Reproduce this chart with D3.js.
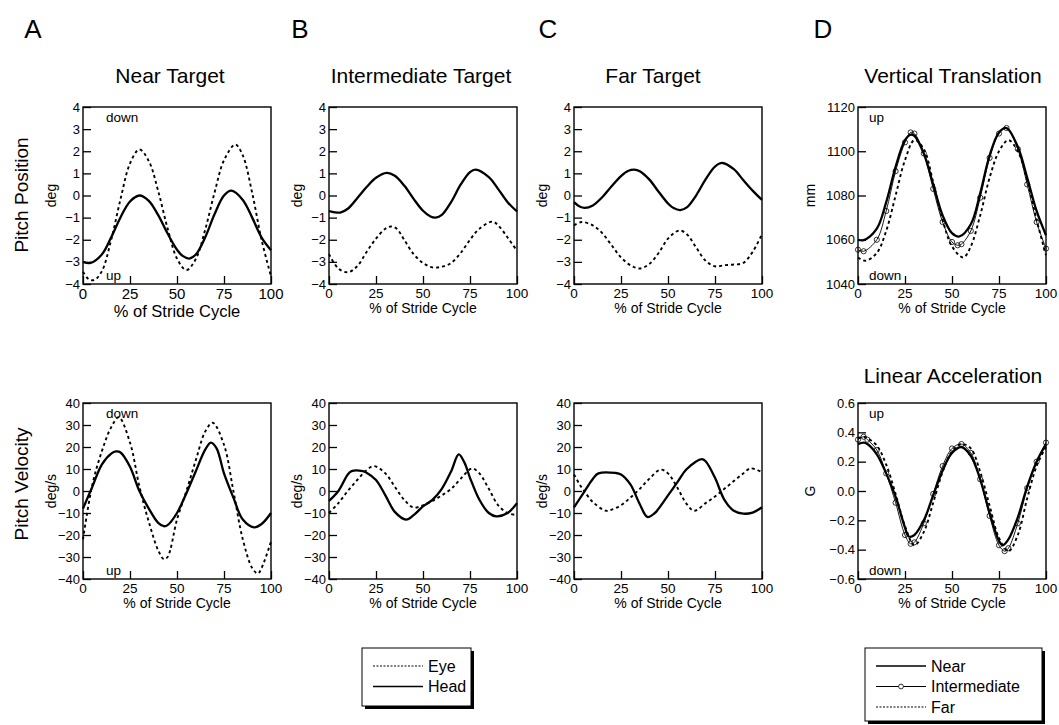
<!DOCTYPE html>
<html>
<head>
<meta charset="utf-8">
<script src="https://cdn.jsdelivr.net/npm/d3@7"></script>
<style>
  body { margin: 0; background: #fff; }
  svg { font-family: "Liberation Sans", Arial, Helvetica, sans-serif; }
</style>
</head>
<body>
<div id="chart"></div>
<script>
const width = 1059;
const height = 725;

// ---- data ----
const strideTicks = [0, 25, 50, 75, 100];
const positionTicks = [-4, -3, -2, -1, 0, 1, 2, 3, 4];
const velocityTicks = [-40, -30, -20, -10, 0, 10, 20, 30, 40];
const translationTicks = [1040, 1060, 1080, 1100, 1120];
const accelerationTicks = [-0.6, -0.4, -0.2, 0.0, 0.2, 0.4, 0.6];

// pitch position (deg) vs % of stride cycle
const nearEyePos = [[0,-3.45],[3,-3.78],[6,-3.82],[10,-3.43],[15,-2.0],[20,-0.15],[25,1.45],[30,2.08],[35,1.56],[40,0.2],[45,-1.49],[50,-2.85],[55,-3.37],[60,-2.87],[65,-1.54],[70,0.14],[75,1.59],[81,2.3],[85,1.81],[90,0.11],[95,-2.01],[100,-3.65]];
const nearHeadPos = [[0,-3.0],[4,-3.05],[10,-2.67],[15,-1.89],[20,-0.98],[25,-0.27],[30,0.0],[35,-0.24],[40,-0.89],[45,-1.72],[50,-2.45],[53,-2.73],[56.5,-2.85],[60,-2.67],[65,-1.89],[70,-0.84],[75,0.0],[79,0.22],[85,-0.2],[90,-1.0],[95,-1.9],[100,-2.47]];
const interEyePos = [[0,-2.65],[5,-3.3],[10,-3.47],[15,-3.2],[20,-2.55],[25,-1.95],[30,-1.5],[33,-1.4],[36,-1.5],[40,-2.0],[45,-2.65],[50,-3.05],[55,-3.25],[60,-3.22],[65,-3.05],[70,-2.6],[75,-2.0],[80,-1.5],[87,-1.18],[90,-1.35],[95,-1.9],[100,-2.5]];
const interHeadPos = [[0,-0.7],[3,-0.76],[6,-0.77],[10,-0.6],[15,-0.12],[20,0.38],[25,0.8],[30.7,1.02],[35,0.89],[40,0.45],[45,-0.15],[50,-0.69],[54,-0.95],[56.8,-1.0],[60,-0.88],[65,-0.29],[70,0.49],[75,1.06],[78,1.17],[85,0.83],[90,0.29],[95,-0.3],[100,-0.72]];
const farEyePos = [[0,-1.35],[4,-1.2],[10,-1.35],[15,-1.7],[20,-2.25],[25,-2.8],[30,-3.15],[35,-3.3],[40,-3.1],[45,-2.6],[50,-1.95],[56,-1.58],[60,-1.75],[65,-2.35],[70,-2.95],[75,-3.2],[80,-3.15],[85,-3.12],[90,-3.05],[95,-2.55],[100,-1.75]];
const farHeadPos = [[0,-0.3],[3,-0.5],[5.7,-0.56],[10,-0.45],[15,-0.08],[20,0.42],[25,0.88],[29,1.12],[32,1.17],[35,1.1],[40,0.73],[45,0.17],[50,-0.36],[53,-0.57],[56.5,-0.66],[60,-0.54],[65,0.01],[70,0.73],[75,1.31],[79,1.47],[85,1.19],[90,0.7],[95,0.22],[100,-0.2]];

// pitch velocity (deg/s)
const nearEyeVel = [[0,-22],[5,3],[10,18],[15,29],[19,33.5],[25,22],[30,2],[35,-14],[40,-27],[43,-31],[45,-30],[50,-13],[55,0],[60,14],[65,27],[69,31],[75,21],[80,0],[85,-22],[90,-35],[93,-37.5],[95,-35],[100,-23]];
const nearHeadVel = [[0,-8],[5,2],[10,12],[15,17],[17.5,18],[20,17.5],[25,11],[30,0],[35,-8],[40,-14.5],[43,-16],[45,-15.5],[50,-10],[55,-1],[60,9],[65,18.8],[68,22],[71,19.5],[75,8],[80,-3],[85,-13],[91,-16.5],[95,-15],[100,-10]];
const interEyeVel = [[0,-10],[5,-5.5],[10,0],[15,5],[20,9.5],[24,11.3],[30,8],[35,2],[40,-4],[45,-7.5],[50,-6.5],[55,-4.5],[60,-2],[65,1],[70,5.5],[76,10.2],[80,8],[85,1],[90,-6.5],[95,-10],[100,-11]];
const interHeadVel = [[0,-4.5],[5,0],[10,7.5],[12,9],[18,9],[20,8.3],[25,5],[30,-2],[35,-9.5],[41,-13],[45,-11],[50,-7],[55,-4],[60,1],[65,9],[69,16.6],[72,13],[75,6],[80,-4],[85,-10],[89,-11.5],[95,-10],[100,-5.5]];
const farEyeVel = [[0,7.5],[3,3],[5,0.5],[10,-5],[17,-9],[20,-8.5],[25,-6.5],[30,-3],[35,1],[40,5.5],[46,9.7],[50,8],[55,1.5],[60,-6],[64,-9],[70,-5.5],[75,-2.5],[80,1],[85,4.5],[90,8],[94,10.3],[100,8.5]];
const farHeadVel = [[0,-7.4],[5,-1],[10,5.5],[13,8],[22,8.2],[25,7.5],[30,3],[35,-6],[39,-11.8],[43,-10],[45,-8],[50,-2],[55,4],[60,10],[68,14.5],[70,13.5],[75,6],[80,-4],[85,-9],[90,-10.3],[95,-9.8],[100,-7.4]];

// vertical translation (mm)
const nearTrans = [[0,1060],[3,1059.8],[10,1065],[15,1077],[20,1093],[25,1105],[28,1107.5],[30,1107],[35,1099],[40,1085],[45,1071],[50,1063],[54,1061.5],[60,1067],[65,1081],[70,1098],[75,1108.5],[79,1110.5],[85,1102],[90,1088],[95,1073],[100,1062]];
const interTrans = [[0,1055.5],[3,1054.8],[10,1060],[15,1073],[20,1091],[25,1104],[28,1108.5],[30,1108],[35,1099],[40,1083],[45,1068],[50,1059],[53,1057.5],[55,1058],[60,1064],[65,1079],[70,1097],[75,1108],[79,1110.5],[85,1101],[90,1085],[95,1068],[100,1056]];
const farTrans = [[0,1052],[4,1050.5],[10,1054],[15,1064],[20,1080],[25,1096],[30,1105],[35,1101],[40,1086],[45,1069],[50,1057],[56,1052],[60,1057],[65,1071],[70,1088],[75,1100],[80,1105],[85,1100],[90,1087],[95,1069],[100,1053]];

// linear acceleration (G)
const nearAccel = [[0,0.32],[3,0.33],[5,0.32],[10,0.25],[15,0.12],[20,-0.04],[25,-0.25],[27,-0.31],[30,-0.3],[35,-0.2],[40,-0.03],[45,0.14],[50,0.26],[55,0.30],[60,0.24],[65,0.08],[70,-0.15],[75,-0.34],[77,-0.37],[80,-0.33],[85,-0.18],[90,0.03],[95,0.2],[100,0.32]];
const interAccel = [[0,0.35],[3,0.37],[5,0.35],[10,0.28],[15,0.12],[20,-0.08],[25,-0.3],[28,-0.36],[30,-0.35],[35,-0.22],[40,-0.02],[45,0.17],[50,0.29],[55,0.32],[60,0.26],[65,0.08],[70,-0.17],[75,-0.37],[78,-0.41],[80,-0.39],[85,-0.22],[90,0.02],[95,0.2],[100,0.33]];
const farAccel = [[0,0.36],[3,0.37],[5,0.36],[10,0.31],[15,0.18],[20,-0.02],[25,-0.24],[30,-0.37],[35,-0.28],[40,-0.08],[45,0.13],[50,0.27],[55,0.32],[60,0.29],[65,0.13],[70,-0.1],[75,-0.32],[80,-0.41],[85,-0.3],[90,-0.05],[95,0.17],[100,0.3]];

// ---- layout ----
const cols = [[83, 271], [329, 517], [574, 762], [858, 1046]];
const rows = [[107, 284], [403, 579]];

const svg = d3.select("#chart")
  .append("svg")
  .attr("width", width)
  .attr("height", height);

const styles = {
  solid: { width: 2.3, dash: null },
  dash: { width: 1.9, dash: "3,3" },
  thin: { width: 0.9, dash: null }
};

const panels = [
  { col: 0, row: 0, domain: [-4, 4], ticks: positionTicks, fmt: d3.format("d"), unit: "deg",
    series: [{ data: nearEyePos, style: "dash" }, { data: nearHeadPos, style: "solid" }],
    notes: [["down", "top"], ["up", "bottom"]], noteX: 23, bigX: true },
  { col: 1, row: 0, domain: [-4, 4], ticks: positionTicks, fmt: d3.format("d"), unit: "deg",
    series: [{ data: interEyePos, style: "dash" }, { data: interHeadPos, style: "solid" }] },
  { col: 2, row: 0, domain: [-4, 4], ticks: positionTicks, fmt: d3.format("d"), unit: "deg",
    series: [{ data: farEyePos, style: "dash" }, { data: farHeadPos, style: "solid" }] },
  { col: 3, row: 0, domain: [1040, 1120], ticks: translationTicks, fmt: d3.format("d"), unit: "mm",
    series: [{ data: farTrans, style: "dash" }, { data: interTrans, style: "thin", marks: true }, { data: nearTrans, style: "solid" }],
    notes: [["up", "top"], ["down", "bottom"]], noteX: 11 },
  { col: 0, row: 1, domain: [-40, 40], ticks: velocityTicks, fmt: d3.format("d"), unit: "deg/s",
    series: [{ data: nearEyeVel, style: "dash" }, { data: nearHeadVel, style: "solid" }],
    notes: [["down", "top"], ["up", "bottom"]], noteX: 23 },
  { col: 1, row: 1, domain: [-40, 40], ticks: velocityTicks, fmt: d3.format("d"), unit: "deg/s",
    series: [{ data: interEyeVel, style: "dash" }, { data: interHeadVel, style: "solid" }] },
  { col: 2, row: 1, domain: [-40, 40], ticks: velocityTicks, fmt: d3.format("d"), unit: "deg/s",
    series: [{ data: farEyeVel, style: "dash" }, { data: farHeadVel, style: "solid" }] },
  { col: 3, row: 1, domain: [-0.6, 0.6], ticks: accelerationTicks, fmt: d3.format(".1f"), unit: "G",
    series: [{ data: farAccel, style: "dash" }, { data: interAccel, style: "thin", marks: true }, { data: nearAccel, style: "solid" }],
    notes: [["up", "top"], ["down", "bottom"]], noteX: 11 }
];

panels.forEach(p => {
  const [x0, x1] = cols[p.col];
  const [y0, y1] = rows[p.row];
  const x = d3.scaleLinear().domain([0, 100]).range([x0, x1]);
  const y = d3.scaleLinear().domain(p.domain).range([y1, y0]);
  const g = svg.append("g");

  // inward ticks
  g.append("g")
    .attr("transform", `translate(0,${y1})`)
    .call(d3.axisTop(x).tickValues(strideTicks).tickSize(8).tickFormat(""))
    .call(a => a.select(".domain").remove())
    .selectAll("line").attr("stroke", "#000").attr("stroke-width", 1.3);
  g.append("g")
    .attr("transform", `translate(${x0},0)`)
    .call(d3.axisRight(y).tickValues(p.ticks).tickSize(8).tickFormat(""))
    .call(a => a.select(".domain").remove())
    .selectAll("line").attr("stroke", "#000").attr("stroke-width", 1.3);

  // tick labels
  g.selectAll(".xl").data(strideTicks).join("text")
    .attr("x", d => x(d)).attr("y", y1 + (p.bigX ? 15 : 14))
    .attr("text-anchor", "middle").attr("font-size", p.bigX ? 15 : 13.5)
    .text(d => d);
  g.selectAll(".yl").data(p.ticks).join("text")
    .attr("x", x0 - 3).attr("y", d => y(d)).attr("dy", "0.35em")
    .attr("text-anchor", "end").attr("font-size", 13)
    .text(d => p.fmt(d));

  // frame
  g.append("rect")
    .attr("x", x0).attr("y", y0)
    .attr("width", x1 - x0).attr("height", y1 - y0)
    .attr("fill", "none").attr("stroke", "#000").attr("stroke-width", 1.4);

  const line = d3.line()
    .x(d => x(d[0]))
    .y(d => y(d[1]))
    .curve(d3.curveCatmullRom.alpha(0.5));

  p.series.forEach(s => {
    const st = styles[s.style];
    g.append("path")
      .datum(s.data)
      .attr("d", line)
      .attr("fill", "none")
      .attr("stroke", "#000")
      .attr("stroke-width", st.width)
      .attr("stroke-dasharray", st.dash);
    if (s.marks) {
      g.selectAll(null).data(s.data).join("circle")
        .attr("cx", d => x(d[0])).attr("cy", d => y(d[1]))
        .attr("r", 2.6)
        .attr("fill", "none").attr("stroke", "#000").attr("stroke-width", 0.8);
    }
  });

  // axis titles
  g.append("text")
    .attr("x", (x0 + x1) / 2)
    .attr("y", y1 + (p.bigX ? 33 : 29))
    .attr("text-anchor", "middle")
    .attr("font-size", p.bigX ? 16.5 : 14)
    .text("% of Stride Cycle");
  g.append("text")
    .attr("transform", `translate(${x0 - (p.unit === "deg" || p.unit === "deg/s" ? 27 : 43)},${(y0 + y1) / 2}) rotate(-90)`)
    .attr("text-anchor", "middle")
    .attr("font-size", 14)
    .text(p.unit);

  (p.notes || []).forEach(([txt, where]) => {
    g.append("text")
      .attr("x", x0 + p.noteX)
      .attr("y", where === "top" ? y0 + 15 : y1 - 4)
      .attr("font-size", 13.5)
      .text(txt);
  });
});

// panel letters and titles
const letters = [["A", 33], ["B", 300], ["C", 548], ["D", 823]];
svg.selectAll(".letter").data(letters).join("text")
  .attr("x", d => d[1]).attr("y", 38)
  .attr("text-anchor", "middle").attr("font-size", 26)
  .text(d => d[0]);

const titles = [["Near Target", 170, 83], ["Intermediate Target", 421, 83], ["Far Target", 653, 83],
  ["Vertical Translation", 953, 83], ["Linear Acceleration", 953, 383]];
svg.selectAll(".title").data(titles).join("text")
  .attr("x", d => d[1]).attr("y", d => d[2])
  .attr("text-anchor", "middle").attr("font-size", 21)
  .text(d => d[0]);

const rowLabels = [["Pitch Position", 195], ["Pitch Velocity", 484]];
svg.selectAll(".rowlab").data(rowLabels).join("text")
  .attr("transform", d => `translate(28,${d[1]}) rotate(-90)`)
  .attr("text-anchor", "middle").attr("font-size", 19)
  .text(d => d[0]);

// legends
function legend(x0, y0, w, h, items) {
  const g = svg.append("g");
  g.append("rect").attr("x", x0 + 3).attr("y", y0 + 3).attr("width", w).attr("height", h).attr("fill", "#000");
  g.append("rect").attr("x", x0).attr("y", y0).attr("width", w).attr("height", h)
    .attr("fill", "#fff").attr("stroke", "#000").attr("stroke-width", 1);
  items.forEach((it, i) => {
    const yy = y0 + 18 + i * 20.5;
    g.append("line")
      .attr("x1", x0 + 11).attr("x2", x0 + 61).attr("y1", yy).attr("y2", yy)
      .attr("stroke", "#000").attr("stroke-width", it.style === "solid" ? 1.6 : 1)
      .attr("stroke-dasharray", it.style === "dash" ? "2,1.5" : null);
    if (it.marks) {
      g.append("circle").attr("cx", x0 + 36).attr("cy", yy).attr("r", 2.4)
        .attr("fill", "#fff").attr("stroke", "#000").attr("stroke-width", 0.8);
    }
    g.append("text").attr("x", x0 + 66).attr("y", yy).attr("dy", "0.35em")
      .attr("font-size", 16).text(it.label);
  });
}

legend(362, 648, 109, 58, [{ label: "Eye", style: "dash" }, { label: "Head", style: "solid" }]);
legend(865, 648, 177, 73, [{ label: "Near", style: "solid" }, { label: "Intermediate", style: "thin", marks: true }, { label: "Far", style: "dash" }]);
</script>
</body>
</html>
